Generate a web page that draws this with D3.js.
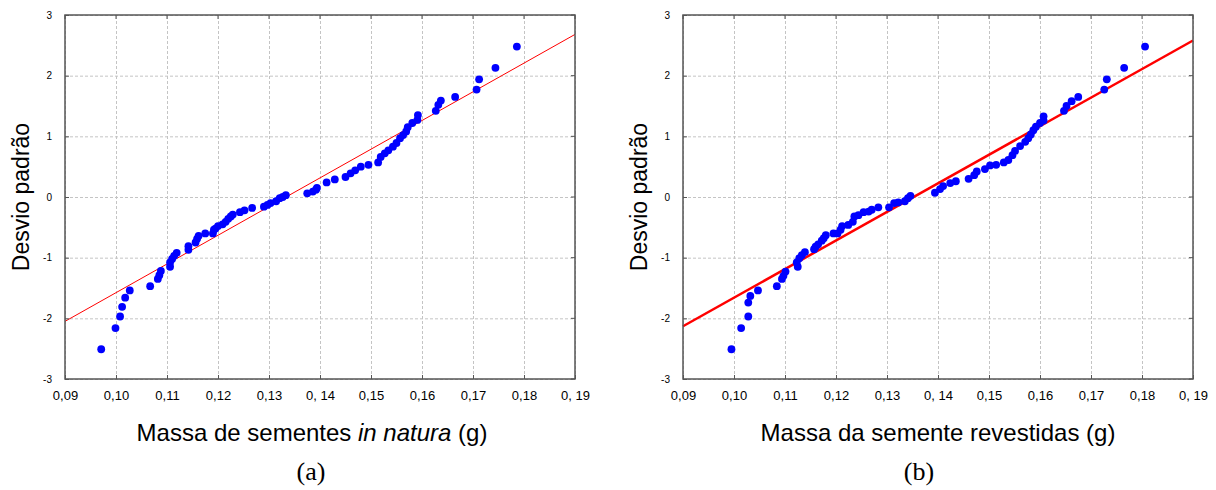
<!DOCTYPE html>
<html>
<head>
<meta charset="utf-8">
<script src="https://cdn.jsdelivr.net/npm/d3@7"></script>
<style>
  body { margin: 0; background: #fff; }
  text { font-family: "Liberation Sans", Arial, sans-serif; }
</style>
</head>
<body>
<div id="wrapper"></div>
<script>
// Normal probability plots: seed mass vs. standard deviation.

// Panel (a): sementes in natura
const massaA = [0.0971, 0.0999, 0.1008, 0.1012, 0.1018, 0.1027, 0.1067, 0.1082, 0.1085, 0.1088,
  0.1106, 0.1106, 0.1110, 0.1114, 0.1119, 0.1142, 0.1142, 0.1156, 0.1159, 0.1162,
  0.1175, 0.1190, 0.1192, 0.1195, 0.1200, 0.1209, 0.1215, 0.1220, 0.1225, 0.1229,
  0.1243, 0.1252, 0.1267, 0.1290, 0.1297, 0.1303, 0.1314, 0.1321, 0.1327, 0.1333,
  0.1375, 0.1386, 0.1392, 0.1394, 0.1413, 0.1429, 0.1450, 0.1460, 0.1469, 0.1480,
  0.1495, 0.1514, 0.1519, 0.1527, 0.1534, 0.1543, 0.1550, 0.1557, 0.1563, 0.1569,
  0.1572, 0.1581, 0.1591, 0.1592, 0.1627, 0.1632, 0.1637, 0.1665, 0.1707, 0.1712,
  0.1744, 0.1786]
const desvioA = [-2.51, -2.16, -1.97, -1.81, -1.66, -1.54, -1.47, -1.35, -1.29, -1.22,
  -1.15, -1.08, -1.02, -0.97, -0.92, -0.87, -0.81, -0.75, -0.69, -0.64,
  -0.60, -0.60, -0.54, -0.52, -0.48, -0.45, -0.41, -0.36, -0.32, -0.29,
  -0.25, -0.22, -0.18, -0.16, -0.13, -0.10, -0.07, -0.02, 0.00, 0.03,
  0.06, 0.09, 0.12, 0.15, 0.24, 0.29, 0.33, 0.39, 0.44, 0.50,
  0.53, 0.57, 0.66, 0.72, 0.77, 0.83, 0.89, 0.97, 1.02, 1.08,
  1.15, 1.22, 1.27, 1.35, 1.42, 1.52, 1.59, 1.65, 1.77, 1.94,
  2.13, 2.48]
const retaXA = [0.09, 0.19]
const retaYA = [-2.05, 2.68]

// Panel (b): sementes revestidas
const massaB = [0.0995, 0.1014, 0.1028, 0.1028, 0.1032, 0.1047, 0.1084, 0.1094, 0.1097, 0.1101,
  0.1125, 0.1123, 0.1128, 0.1133, 0.1139, 0.1157, 0.1160, 0.1165, 0.1172, 0.1176,
  0.1180, 0.1195, 0.1203, 0.1209, 0.1212, 0.1224, 0.1233, 0.1236, 0.1244, 0.1254,
  0.1264, 0.1270, 0.1283, 0.1304, 0.1314, 0.1322, 0.1335, 0.1341, 0.1346, 0.1394,
  0.1404, 0.1410, 0.1424, 0.1435, 0.1460, 0.1471, 0.1476, 0.1492, 0.1502, 0.1514,
  0.1529, 0.1538, 0.1546, 0.1551, 0.1561, 0.1571, 0.1577, 0.1582, 0.1587, 0.1592,
  0.1600, 0.1607, 0.1607, 0.1647, 0.1652, 0.1662, 0.1675, 0.1726, 0.1731, 0.1765,
  0.1806]
const desvioB = [-2.51, -2.16, -1.97, -1.74, -1.63, -1.54, -1.47, -1.35, -1.30, -1.23,
  -1.15, -1.08, -1.01, -0.96, -0.91, -0.86, -0.82, -0.78, -0.72, -0.68,
  -0.63, -0.60, -0.60, -0.54, -0.48, -0.46, -0.41, -0.32, -0.30, -0.25,
  -0.24, -0.21, -0.17, -0.17, -0.10, -0.09, -0.07, -0.02, 0.02, 0.07,
  0.13, 0.18, 0.23, 0.26, 0.30, 0.36, 0.42, 0.46, 0.52, 0.53,
  0.57, 0.61, 0.69, 0.76, 0.84, 0.91, 0.97, 1.03, 1.10, 1.16,
  1.22, 1.26, 1.33, 1.42, 1.50, 1.58, 1.65, 1.77, 1.94, 2.13,
  2.48]
const retaXB = [0.09, 0.19]
const retaYB = [-2.13, 2.58]

// ticks
const xTicks = [0.09, 0.10, 0.11, 0.12, 0.13, 0.14, 0.15, 0.16, 0.17, 0.18, 0.19]
const xTickLabels = ["0,09", "0,10", "0,11", "0,12", "0,13", "0, 14", "0,15", "0,16", "0,17", "0,18", "0, 19"]
const yTicks = [3, 2, 1, 0, -1, -2, -3]
const yTickLabels = ["3", "2", "1", "0", "-1", "-2", "-3"]

const width = 1216
const height = 490

const svg = d3.select("#wrapper").append("svg")
  .attr("width", width)
  .attr("height", height)

const drawPanel = (opts) => {
  const { left, xs, ys, lx, ly, lineWidth, xTitle, letter, xTitleCenter, yTitleX, letterX } = opts
  const w = 510
  const top = 15
  const h = 364

  const xScale = d3.scaleLinear().domain([0.09, 0.19]).range([0, w])
  const yScale = d3.scaleLinear().domain([-3, 3]).range([h, 0])

  const g = svg.append("g").attr("transform", `translate(${left},${top})`)

  // dashed grid
  const gridX = g.append("g")
    .attr("transform", `translate(0,${h})`)
    .call(d3.axisBottom(xScale).tickValues(xTicks).tickSize(-h).tickFormat(""))
  const gridY = g.append("g")
    .call(d3.axisLeft(yScale).tickValues(yTicks).tickSize(-w).tickFormat(""))
  ;[gridX, gridY].forEach(gr => {
    gr.select(".domain").remove()
    gr.selectAll("line").attr("stroke", "#c4c4c4").attr("stroke-dasharray", "3,2")
  })

  // fitted line
  const line = d3.line().x(d => xScale(d[0])).y(d => yScale(d[1]))
  g.append("path")
    .datum(lx.map((d, i) => [d, ly[i]]))
    .attr("d", line)
    .attr("fill", "none")
    .attr("stroke", "#ff0000")
    .attr("stroke-width", lineWidth)

  // points
  g.append("g").selectAll("circle")
    .data(xs.map((d, i) => [d, ys[i]]))
    .join("circle")
    .attr("cx", d => xScale(d[0]))
    .attr("cy", d => yScale(d[1]))
    .attr("r", 3.9)
    .attr("fill", "#0000ff")

  // frame
  g.append("rect")
    .attr("width", w).attr("height", h)
    .attr("fill", "none")
    .attr("stroke", "#555")
    .attr("stroke-width", 1.5)

  // axes with labels
  const xAxis = g.append("g")
    .attr("transform", `translate(0,${h})`)
    .call(d3.axisBottom(xScale).tickValues(xTicks).tickSize(-4).tickPadding(12)
      .tickFormat((d, i) => xTickLabels[i]))
  const yAxis = g.append("g")
    .call(d3.axisLeft(yScale).tickValues(yTicks).tickSize(-4).tickPadding(13)
      .tickFormat((d, i) => yTickLabels[i]))
  ;[xAxis, yAxis].forEach(ax => {
    ax.select(".domain").remove()
    ax.selectAll("line").attr("stroke", "#555")
    ax.selectAll("text").attr("fill", "#000").style("font-family", "'Liberation Sans', Arial, sans-serif")
  })
  xAxis.selectAll("text").style("font-size", "13px")
  yAxis.selectAll("text").style("font-size", "10px")

  // top and right inner ticks
  g.append("g").selectAll("line").data(xTicks).join("line")
    .attr("x1", d => xScale(d)).attr("x2", d => xScale(d))
    .attr("y1", 0).attr("y2", 4).attr("stroke", "#555")
  g.append("g").selectAll("line").data(yTicks).join("line")
    .attr("x1", w).attr("x2", w - 4)
    .attr("y1", d => yScale(d)).attr("y2", d => yScale(d)).attr("stroke", "#555")

  // axis titles
  const xt = svg.append("text")
    .attr("x", xTitleCenter)
    .attr("y", 441)
    .attr("text-anchor", "middle")
    .style("font-size", "24px")
  xTitle.forEach(part => {
    xt.append("tspan").text(part.t).style("font-style", part.i ? "italic" : "normal")
  })

  svg.append("text")
    .attr("transform", `translate(${yTitleX},${top + h / 2}) rotate(-90)`)
    .attr("text-anchor", "middle")
    .style("font-size", "23px")
    .text("Desvio padrão")

  svg.append("text")
    .attr("x", letterX)
    .attr("y", 480)
    .attr("text-anchor", "middle")
    .style("font-family", "'Liberation Serif', 'Times New Roman', serif")
    .style("font-size", "26px")
    .text(letter)
}

drawPanel({
  left: 65, xs: massaA, ys: desvioA, lx: retaXA, ly: retaYA, lineWidth: 1,
  xTitle: [{ t: "Massa de sementes " }, { t: "in natura", i: true }, { t: " (g)" }],
  xTitleCenter: 312, yTitleX: 29, letter: "(a)", letterX: 311
})

drawPanel({
  left: 683, xs: massaB, ys: desvioB, lx: retaXB, ly: retaYB, lineWidth: 2.5,
  xTitle: [{ t: "Massa da semente revestidas (g)" }],
  xTitleCenter: 938, yTitleX: 647, letter: "(b)", letterX: 919
})
</script>
</body>
</html>
